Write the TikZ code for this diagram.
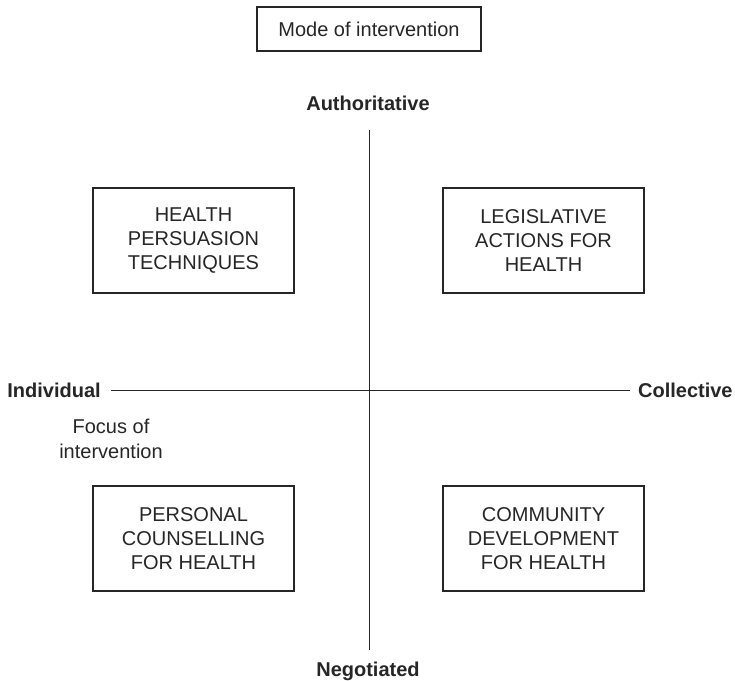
\documentclass[tikz,border=0pt]{standalone}
\usepackage{fontspec}
\setmainfont{Liberation Sans}
\usetikzlibrary{positioning}

\tikzset{
  quadbox/.style={draw, line width=0.65pt, minimum width=100.5pt, minimum height=52.5pt,
    align=center, inner sep=0pt, font=\fontsize{10}{12}\selectfont},
  poletext/.style={font=\fontsize{10}{12}\selectfont\bfseries},
}

\begin{document}
\begin{tikzpicture}[x=0.5pt,y=-0.5pt,color=black!85]
  \useasboundingbox (0,0) rectangle (735,681);

  % heading box
  \node[draw, line width=0.65pt, minimum width=112pt, minimum height=22pt,
        font=\fontsize{10}{12}\selectfont] (mode) at (369,29) {Mode of intervention};

  % ends of the two axes
  \node[poletext] (auth) at (368,103) {Authoritative};
  \node[poletext, anchor=base] (neg) at (368,676) {Negotiated};
  \node[poletext, anchor=west, inner sep=0pt] (ind) at (7,390) {Individual};
  \node[poletext, anchor=east, inner sep=0pt] (col) at (733,390) {Collective};

  \coordinate (axtop) at (369,130);
  \coordinate (axbot) at (369,650);
  \draw[line width=0.5pt] (axtop) -- (axbot);                          % vertical axis
  \draw[line width=0.5pt] ([xshift=5pt]ind.east) -- ([xshift=-4pt]col.west); % horizontal axis

  \node[align=center, font=\fontsize{10}{12.5}\selectfont] (focus) at (111,439) {Focus of\\intervention};

  % the four quadrants
  \node[quadbox] (persuasion)  at (193.5,240.5) {HEALTH\\PERSUASION\\TECHNIQUES};
  \node[quadbox] (legislative) at (543.5,240.5) {LEGISLATIVE\\ACTIONS FOR\\HEALTH};
  \node[quadbox] (counselling) at (193.5,538.5) {PERSONAL\\COUNSELLING\\FOR HEALTH};
  \node[quadbox] (community)   at (543.5,538.5) {COMMUNITY\\DEVELOPMENT\\FOR HEALTH};
\end{tikzpicture}
\end{document}
